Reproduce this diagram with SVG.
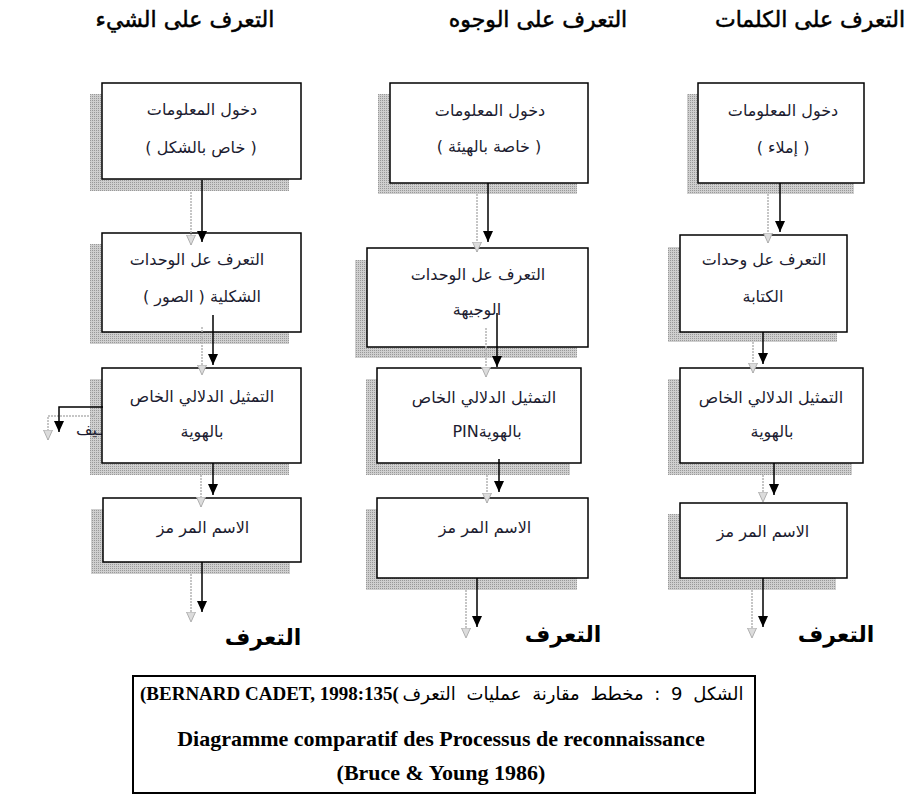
<svg xmlns="http://www.w3.org/2000/svg" width="912" height="794" viewBox="0 0 912 794">
<style>
.bg{fill:#fff}
.box{fill:#fff;stroke:#000;stroke-width:1.5}
.sh{fill:url(#dots)}
.ar{font-family:"DejaVu Sans","Noto Sans",sans-serif;font-size:16px;fill:#1c1c30;text-anchor:middle}
.hdr{font-family:"DejaVu Sans","Noto Sans",sans-serif;font-size:22px;fill:#000;stroke:#000;stroke-width:0.5;text-anchor:middle}
.out{font-family:"DejaVu Sans","Noto Sans",sans-serif;font-size:22px;font-weight:bold;fill:#000;text-anchor:middle}
.blk{stroke:#000;stroke-width:1.5;fill:none;marker-end:url(#ab)}
.gry{stroke:#b4b4b4;stroke-width:1.5;stroke-dasharray:2 1;fill:none;marker-end:url(#ag)}
.cap{font-family:"Liberation Serif","Times New Roman",serif;font-weight:bold;fill:#000}
.capar{font-family:"DejaVu Sans","Noto Sans",sans-serif;font-size:18px;word-spacing:5px;fill:#000;text-anchor:middle}
.frame{fill:none;stroke:#000;stroke-width:2}
</style>
<defs>
<pattern id="dots" width="2" height="2" patternUnits="userSpaceOnUse">
<rect width="2" height="2" fill="#cfcfcf"/>
<rect width="1" height="1" fill="#999"/>
</pattern>
<marker id="ab" markerUnits="userSpaceOnUse" markerWidth="11" markerHeight="10" viewBox="0 0 11 10" refX="11" refY="5" orient="auto">
<path d="M0,0 L11,5 L0,10 z" fill="#000"/>
</marker>
<marker id="ag" markerUnits="userSpaceOnUse" markerWidth="11" markerHeight="10" viewBox="0 0 11 10" refX="10.5" refY="5" orient="auto">
<path d="M0.5,0.5 L10.5,5 L0.5,9.5 z" fill="#dcdcdc" stroke="#b0b0b0" stroke-width="1"/>
</marker>
</defs>
<rect class="bg" x="0" y="0" width="912" height="794"/>

<g id="headers">
<text class="hdr" x="185" y="27" direction="rtl">التعرف على الشيء</text>
<text class="hdr" x="538" y="27" direction="rtl">التعرف على الوجوه</text>
<text class="hdr" x="810" y="27" direction="rtl">التعرف على الكلمات</text>
</g>

<!-- Object column -->
<g id="obj-input">
<rect class="sh" x="90" y="94" width="199" height="97"/>
<rect class="box" x="102" y="83" width="199" height="96"/>
<text class="ar" x="202" y="115" direction="rtl">دخول المعلومات</text>
<text class="ar" x="201" y="153" direction="rtl">( خاص بالشكل )</text>
</g>
<g id="obj-units">
<rect class="sh" x="90" y="244" width="199" height="100"/>
<rect class="box" x="102" y="233" width="199" height="99"/>
<text class="ar" x="197" y="265" direction="rtl">التعرف عل الوحدات</text>
<text class="ar" x="202" y="302" direction="rtl">الشكلية ( الصور )</text>
</g>
<g id="obj-semantic">
<rect class="sh" x="90" y="379" width="199" height="96"/>
<text class="ar" x="89" y="435" direction="rtl">ـيف</text>
<rect class="box" x="102" y="368" width="199" height="95"/>
<text class="ar" x="202" y="402" direction="rtl">التمثيل الدلالي الخاص</text>
<text class="ar" x="202" y="437" direction="rtl">بالهوية</text>
</g>
<g id="obj-name">
<rect class="sh" x="91" y="509" width="199" height="65"/>
<rect class="box" x="103" y="498" width="198" height="64"/>
<text class="ar" x="203" y="533" direction="rtl">الاسم المر مز</text>
</g>
<g id="obj-out">
<text class="out" x="263" y="645" direction="rtl">التعرف</text>
</g>

<!-- Face column -->
<g id="face-input">
<rect class="sh" x="378" y="94" width="199" height="100"/>
<rect class="box" x="390" y="83" width="198" height="100"/>
<text class="ar" x="490" y="116" direction="rtl">دخول المعلومات</text>
<text class="ar" x="489" y="152" direction="rtl">( خاصة بالهيئة )</text>
</g>
<g id="face-units">
<rect class="sh" x="355" y="260" width="222" height="98"/>
<rect class="box" x="367" y="248" width="221" height="99"/>
<text class="ar" x="478" y="280" direction="rtl">التعرف عل الوحدات</text>
<text class="ar" x="477" y="315" direction="rtl">الوجيهة</text>
</g>
<g id="face-semantic">
<rect class="sh" x="366" y="379" width="204" height="96"/>
<rect class="box" x="377" y="368" width="204" height="95"/>
<text class="ar" x="484" y="403" direction="rtl">التمثيل الدلالي الخاص</text>
<text class="ar" x="487" y="437" direction="rtl">بالهويةPIN</text>
</g>
<g id="face-name">
<rect class="sh" x="366" y="509" width="211" height="81"/>
<rect class="box" x="377" y="498" width="211" height="80"/>
<text class="ar" x="485" y="533" direction="rtl">الاسم المر مز</text>
</g>
<g id="face-out">
<text class="out" x="563" y="642" direction="rtl">التعرف</text>
</g>

<!-- Word column -->
<g id="word-input">
<rect class="sh" x="687" y="94" width="167" height="100"/>
<rect class="box" x="698" y="83" width="166" height="100"/>
<text class="ar" x="783" y="116" direction="rtl">دخول المعلومات</text>
<text class="ar" x="783" y="153" direction="rtl">( إملاء )</text>
</g>
<g id="word-units">
<rect class="sh" x="668" y="247" width="169" height="95"/>
<rect class="box" x="680" y="235" width="167" height="97"/>
<text class="ar" x="764" y="265" direction="rtl">التعرف عل وحدات</text>
<text class="ar" x="763" y="302" direction="rtl">الكتابة</text>
</g>
<g id="word-semantic">
<rect class="sh" x="668" y="379" width="184" height="96"/>
<rect class="box" x="680" y="368" width="183" height="95"/>
<text class="ar" x="771" y="403" direction="rtl">التمثيل الدلالي الخاص</text>
<text class="ar" x="772" y="437" direction="rtl">بالهوية</text>
</g>
<g id="word-name">
<rect class="sh" x="668" y="514" width="168" height="76"/>
<rect class="box" x="680" y="503" width="167" height="75"/>
<text class="ar" x="763" y="537" direction="rtl">الاسم المر مز</text>
</g>
<g id="word-out">
<text class="out" x="836" y="642" direction="rtl">التعرف</text>
</g>

<g id="connectors">
<path class="gry" d="M191,192 V245"/>
<path class="blk" d="M202,180 V242"/>
<path class="gry" d="M202,327 V375"/>
<path class="blk" d="M213,315 V365"/>
<path class="gry" d="M201,475 V507"/>
<path class="blk" d="M213,463 V495"/>
<path class="gry" d="M191,574 V622"/>
<path class="blk" d="M202,562 V612"/>
<path class="gry" d="M95,416 H48 V440"/>
<path class="blk" d="M103,407 H59 V432"/>

<path class="gry" d="M477,194 V252"/>
<path class="blk" d="M488,183 V242"/>
<path class="gry" d="M486,328 V377"/>
<path class="blk" d="M497,313 V367"/>
<path class="gry" d="M487,475 V503"/>
<path class="blk" d="M499,459 V492"/>
<path class="gry" d="M466,590 V638"/>
<path class="blk" d="M477,578 V627"/>

<path class="gry" d="M768,194 V243"/>
<path class="blk" d="M780,183 V232"/>
<path class="gry" d="M753,342 V373"/>
<path class="blk" d="M763,332 V364"/>
<path class="gry" d="M763,475 V502"/>
<path class="blk" d="M774,463 V495"/>
<path class="gry" d="M752,590 V638"/>
<path class="blk" d="M763,578 V627"/>
</g>

<g id="caption">
<rect class="frame" x="133" y="676" width="622" height="117"/>
<text class="cap" x="140" y="700" font-size="19">(BERNARD CADET, 1998:135(</text>
<text class="capar" x="573" y="700" direction="rtl">الشكل 9 : مخطط مقارنة عمليات التعرف</text>
<text class="cap" x="441" y="746" font-size="22" text-anchor="middle">Diagramme comparatif des Processus de reconnaissance</text>
<text class="cap" x="441" y="780" font-size="22" text-anchor="middle">(Bruce &amp; Young 1986)</text>
</g>
</svg>
